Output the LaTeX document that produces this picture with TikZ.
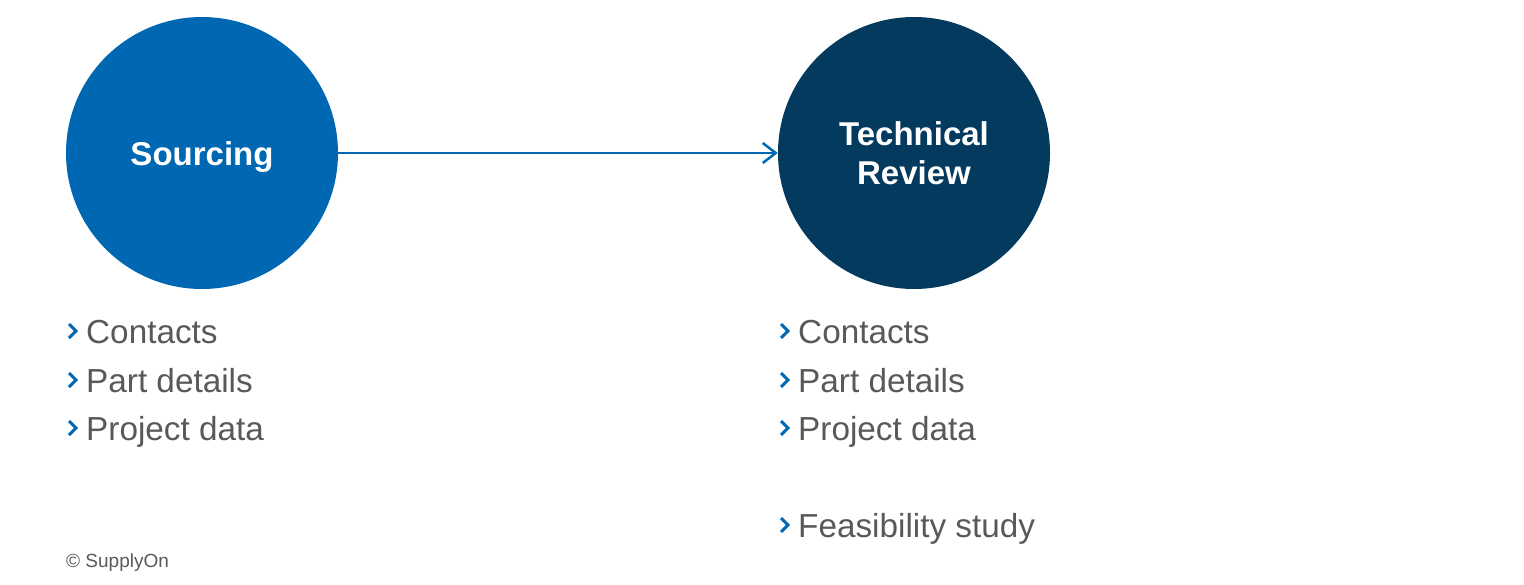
\documentclass[tikz,border=0pt]{standalone}
\usepackage{fontspec}
\setmainfont{Liberation Sans}
\usetikzlibrary{arrows.meta}
\definecolor{sblue}{HTML}{0067B2}
\definecolor{sdark}{HTML}{033A5E}
\definecolor{sgray}{HTML}{595959}
\tikzset{
  phase/.style={circle,minimum size=272pt,inner sep=0pt,text=white,font=\fontsize{33}{39}\selectfont\bfseries,align=center},
  item/.style={anchor=base west,inner sep=0pt,text=sgray,font=\fontsize{33.3}{37}\selectfont},
  chev/.style={draw=sblue,line width=3pt,line cap=butt,line join=miter},
  flow/.style={draw=sblue,line width=2.5pt,-{Straight Barb[length=13pt,width=20pt,line width=2.5pt]}}
}
\begin{document}
\begin{tikzpicture}[x=1pt,y=-1pt]
\useasboundingbox (0,0) rectangle (1524,584);
\node[phase,fill=sblue] (src) at (202,153) {};
\node[anchor=base,inner sep=0pt,text=white,font=\fontsize{33}{39}\selectfont\bfseries] (srct) at (202,165) {Sourcing};
\node[phase,fill=sdark] (tec) at (914,153) {Technical\\Review};
\draw[flow] (src.east) -- (tec.west);
% left list
\foreach \t/\b [count=\i] in {Contacts/343,Part details/392,Project data/440}{
  \node[item] (l\i) at (86,\b) {\t};
  \draw[chev] (69,\b-19) -- (76,\b-12) -- (69,\b-5);
}
\foreach \t/\b [count=\i] in {Contacts/343,Part details/392,Project data/440,Feasibility study/537}{
  \node[item] (r\i) at (798,\b) {\t};
  \draw[chev] (781,\b-19) -- (788,\b-12) -- (781,\b-5);
}
\node[anchor=base west,inner sep=0pt,text=sgray,font=\fontsize{19}{20}\selectfont] (copy) at (66,567) {© SupplyOn};
\end{tikzpicture}
\end{document}
